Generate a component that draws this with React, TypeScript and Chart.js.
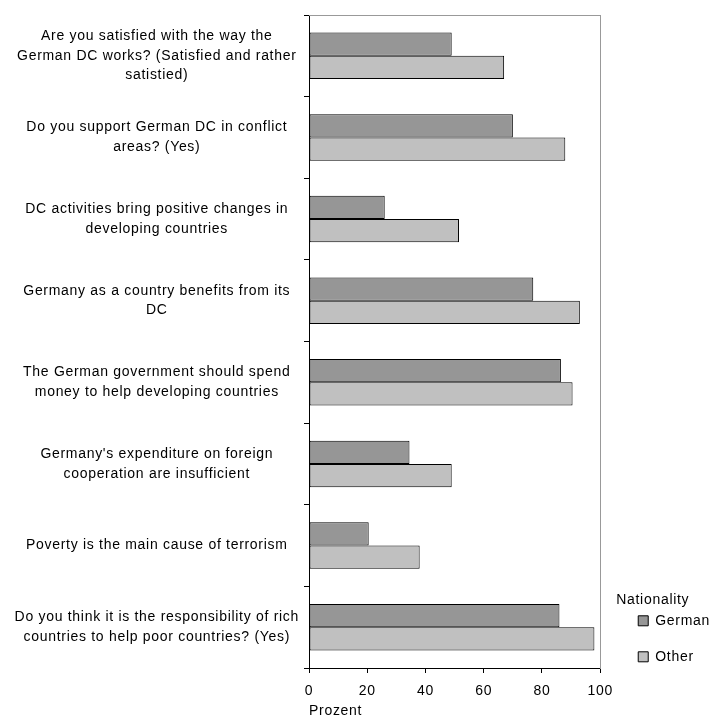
import React, { useEffect, useRef } from "react";
import { Chart, registerables } from "chart.js";

Chart.register(...registerables);

const categories: string[][] = [
  ["Are you satisfied with the way the", "German DC works? (Satisfied and rather", "satistied)"],
  ["Do you support German DC in conflict", "areas? (Yes)"],
  ["DC activities bring positive changes in", "developing countries"],
  ["Germany as a country benefits from its", "DC"],
  ["The German government should spend", "money to help developing countries"],
  ["Germany's expenditure on foreign", "cooperation are insufficient"],
  ["Poverty is the main cause of terrorism"],
  ["Do you think it is the responsibility of rich", "countries to help poor countries? (Yes)"],
];

const germanValues = [49, 70, 26, 77, 86.5, 34.5, 20.5, 86];
const otherValues = [67, 88, 51.5, 93, 90.5, 49, 38, 98];

const seriesNames = ["German", "Other"];
const legendTitle = "Nationality";
const xTitle = "Prozent";
const xMin = 0;
const xMax = 100;
const xStep = 20;

const spacingPlugin = {
  id: "letterSpacing",
  beforeUpdate(chart: any) {
    try {
      (chart.ctx as any).letterSpacing = "0.7px";
    } catch (e) {}
  },
  beforeDraw(chart: any) {
    try {
      (chart.ctx as any).letterSpacing = "0.7px";
    } catch (e) {}
  },
};

export default function App() {
  const ref = useRef<HTMLCanvasElement | null>(null);

  useEffect(() => {
    if (!ref.current) return;
    Chart.defaults.font.family = "'Liberation Sans', Arial, sans-serif";
    Chart.defaults.font.size = 14;
    Chart.defaults.color = "#000";

    const chart = new Chart(ref.current, {
      type: "bar",
      data: {
        labels: categories,
        datasets: [
          {
            label: seriesNames[0],
            data: germanValues,
            backgroundColor: "#969696",
            borderColor: "#000",
            borderWidth: 1,
            borderSkipped: false,
            categoryPercentage: 0.57,
            barPercentage: 1,
          },
          {
            label: seriesNames[1],
            data: otherValues,
            backgroundColor: "#c0c0c0",
            borderColor: "#000",
            borderWidth: 1,
            borderSkipped: false,
            categoryPercentage: 0.57,
            barPercentage: 1,
          },
        ],
      },
      plugins: [spacingPlugin],
      options: {
        indexAxis: "y",
        responsive: false,
        animation: false,
        layout: { autoPadding: false, padding: { top: 15, bottom: 0, left: 0, right: -8 } },
        plugins: {
          tooltip: { enabled: false },
          legend: {
            position: "right",
            align: "start",
            labels: {
              boxWidth: 10,
              boxHeight: 10,
              padding: 22,
              color: "#000",
              font: { size: 14 },
            },
            title: {
              display: true,
              text: legendTitle,
              position: "start",
              color: "#000",
              font: { size: 14 },
              padding: { top: 578, bottom: -18 },
            },
          },
        },
        scales: {
          x: {
            type: "linear",
            position: "bottom",
            min: xMin,
            max: xMax,
            ticks: { stepSize: xStep, padding: 10, color: "#000", font: { size: 14 } },
            grid: { drawOnChartArea: false, drawTicks: true, tickLength: 5, color: "#000" },
            border: { display: true, color: "#000", width: 1 },
            title: {
              display: true,
              text: xTitle,
              align: "start",
              color: "#000",
              font: { size: 14 },
              padding: { top: 0, bottom: 0 },
            },
            afterFit: (scale: any) => {
              scale.height = 52;
              scale.paddingLeft = 0;
              scale.paddingRight = 0;
            },
          },
          y: {
            type: "category",
            position: "left",
            ticks: {
              crossAlign: "center",
              padding: 5,
              color: "#000",
              font: { size: 14, lineHeight: 1.4 },
              autoSkip: false,
            },
            grid: { drawOnChartArea: false, drawTicks: true, tickLength: 5, color: "#000", offset: true },
            border: { display: true, color: "#000", width: 1 },
            afterFit: (scale: any) => {
              scale.width = 309;
              scale.paddingTop = 0;
              scale.paddingBottom = 0;
            },
          },
          x2: {
            type: "linear",
            position: "top",
            display: true,
            ticks: { display: false },
            grid: { display: false, drawTicks: false },
            border: { display: true, color: "#999999", width: 1 },
            afterFit: (scale: any) => {
              scale.height = 0;
            },
          },
          y2: {
            type: "linear",
            position: "right",
            display: true,
            ticks: { display: false },
            grid: { display: false, drawTicks: false },
            border: { display: true, color: "#999999", width: 1 },
            afterFit: (scale: any) => {
              scale.width = 16;
              scale.paddingTop = 0;
              scale.paddingBottom = 0;
            },
          },
        },
      },
    } as any);

    return () => chart.destroy();
  }, []);

  return (
    <canvas
      ref={ref}
      width={712}
      height={720}
      style={{ position: "fixed", left: 0, top: 0, display: "block", background: "#fff" }}
    />
  );
}
